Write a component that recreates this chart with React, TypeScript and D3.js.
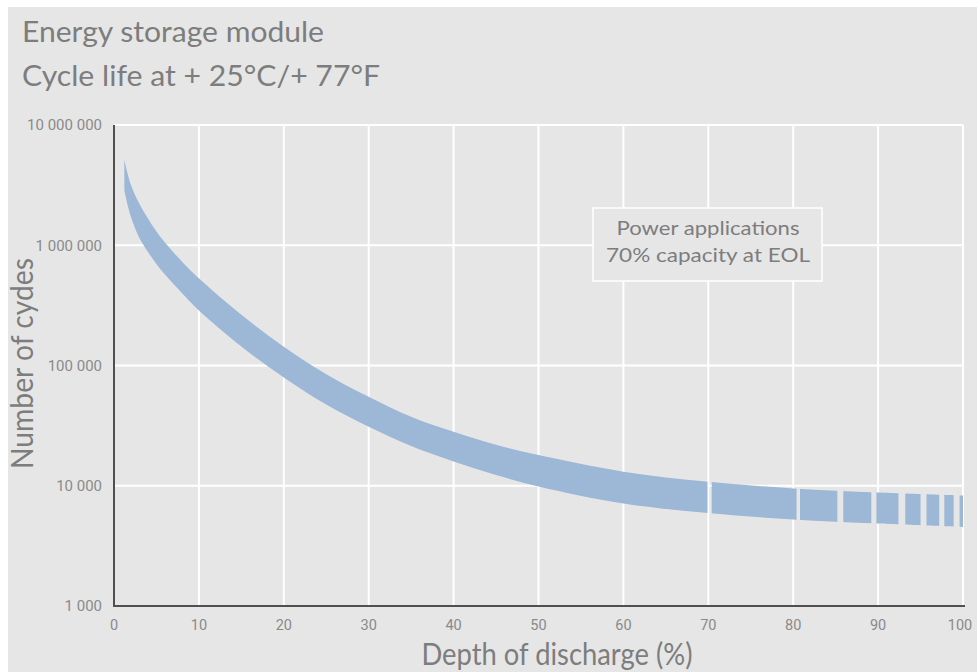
import React from "react";
import * as d3 from "d3";

// Depth of discharge (%) sample points along the band
const dod = [1.2, 2, 3, 4, 5, 6, 8, 10, 15, 20, 25, 30, 35, 40, 45, 50, 60, 70, 80, 90, 100];
// Upper edge of the cycle-life band (number of cycles)
const upperCycles = [5190000, 3170000, 2200000, 1670000, 1300000, 1054000, 732000, 531000, 264000, 143000, 84700, 55000, 37500, 28100, 21900, 18000, 13100, 10800, 9490, 8790, 8300];
// Lower edge of the cycle-life band (number of cycles)
const lowerCycles = [2880000, 1720000, 1149000, 879000, 698000, 571000, 401000, 287000, 144000, 79500, 47400, 31000, 21400, 15900, 12300, 9860, 7120, 5930, 5240, 4850, 4540];
// Band pieces (DoD ranges) separated by small gaps
const segStart = [1.2, 70.4, 80.8, 85.9, 89.8, 93.2, 95.7, 97.8, 99.6];
const segEnd = [69.9, 80.4, 85.2, 89.2, 92.4, 95.0, 97.2, 98.9, 100];

const xTicks = [0, 10, 20, 30, 40, 50, 60, 70, 80, 90, 100];
const yTicks = [1000, 10000, 100000, 1000000, 10000000];

const titleLines = ["Energy storage module", "Cycle life at + 25°C/+ 77°F"];
const noteLines = ["Power applications", "70% capacity at EOL"];
const xTitle = "Depth of discharge (%)";
const yTitle = "Number of cydes";

const W = 977;
const H = 672;
const BG = "#e6e6e6";
const BAND = "#9db7d6";
const TXT = "#7d7d7d";
const TICK = "#8a8a8a";
const FONT = "Lato, 'Open Sans', sans-serif";

export default function App() {
  const x = d3.scaleLinear().domain([0, 100]).range([114, 963]);
  const y = d3.scaleLog().domain([1000, 10000000]).range([606, 125]);

  const rows = dod.map((d, i) => ({ d, hi: upperCycles[i], lo: lowerCycles[i] }));
  const area = d3
    .area<{ d: number; hi: number; lo: number }>()
    .x((r) => x(r.d))
    .y0((r) => y(r.lo))
    .y1((r) => y(r.hi))
    .curve(d3.curveCatmullRom.alpha(0.5));

  const fmt = (v: number) => d3.format(",")(v).replace(/,/g, " ");

  return (
    <div style={{ position: "absolute", left: 0, top: 0 }}>
      <svg width={W} height={H} style={{ display: "block" }}>
        <rect x={0} y={0} width={W} height={H} fill="#ffffff" />
        <rect x={8} y={7} width={W - 8} height={H - 7} fill={BG} />

        {/* title */}
        {titleLines.map((t, i) => (
          <text
            key={t}
            x={22}
            y={42 + i * 43.5}
            fontFamily={FONT}
            fontSize={29}
            fill={TXT}
            textLength={i === 0 ? 302 : 358}
            lengthAdjust="spacingAndGlyphs"
          >
            {t}
          </text>
        ))}

        <defs>
          <clipPath id="segclip">
            {segStart.map((s, i) => (
              <rect key={i} x={x(s)} y={100} width={x(segEnd[i]) - x(s)} height={520} />
            ))}
          </clipPath>
        </defs>

        {/* grid */}
        {yTicks
          .filter((v) => v > 1000)
          .map((v) => (
            <line key={v} x1={x(0)} x2={x(100)} y1={y(v)} y2={y(v)} stroke="#ffffff" strokeWidth={2} />
          ))}
        {xTicks
          .filter((v) => v > 0)
          .map((v) => (
            <line key={v} x1={x(v)} x2={x(v)} y1={y(10000000)} y2={y(1000)} stroke="#ffffff" strokeWidth={2} />
          ))}

        {/* band */}
        <path d={area(rows) || ""} fill={BAND} clipPath="url(#segclip)" />

        {/* axes */}
        <line x1={x(0)} x2={x(0)} y1={y(10000000)} y2={y(1000) + 1} stroke="#505050" strokeWidth={2} />
        <line x1={x(0) - 1} x2={x(100) + 2} y1={y(1000)} y2={y(1000)} stroke="#505050" strokeWidth={2} />

        {/* tick labels */}
        {yTicks.map((v) => (
          <text
            key={v}
            x={102}
            y={y(v)}
            dy="0.36em"
            textAnchor="end"
            fontFamily="Roboto, sans-serif"
            fontSize={15}
            fill={TICK}
          >
            {fmt(v)}
          </text>
        ))}
        {xTicks.map((v) => (
          <text
            key={v}
            x={v === 100 ? x(v) - 3 : x(v)}
            y={630}
            textAnchor="middle"
            fontFamily="Roboto, sans-serif"
            fontSize={14.5}
            fill={TICK}
          >
            {v}
          </text>
        ))}

        {/* axis titles */}
        <text
          x={557}
          y={665}
          textAnchor="middle"
          fontFamily={FONT}
          fontSize={30}
          fill={TXT}
          textLength={271}
          lengthAdjust="spacingAndGlyphs"
        >
          {xTitle}
        </text>
        <text
          transform="translate(33,363.5) rotate(-90)"
          textAnchor="middle"
          fontFamily={FONT}
          fontSize={30}
          fill={TXT}
          textLength={211}
          lengthAdjust="spacingAndGlyphs"
        >
          {yTitle}
        </text>

        {/* annotation */}
        <rect x={593} y={208} width={229} height={73} fill={BG} stroke="#ffffff" strokeWidth={1.5} />
        {noteLines.map((t, i) => (
          <text
            key={t}
            x={708}
            y={234.5 + i * 27.5}
            textAnchor="middle"
            fontFamily={FONT}
            fontSize={20}
            fill={TXT}
            textLength={i === 0 ? 183 : 204}
            lengthAdjust="spacingAndGlyphs"
          >
            {t}
          </text>
        ))}
      </svg>
    </div>
  );
}
